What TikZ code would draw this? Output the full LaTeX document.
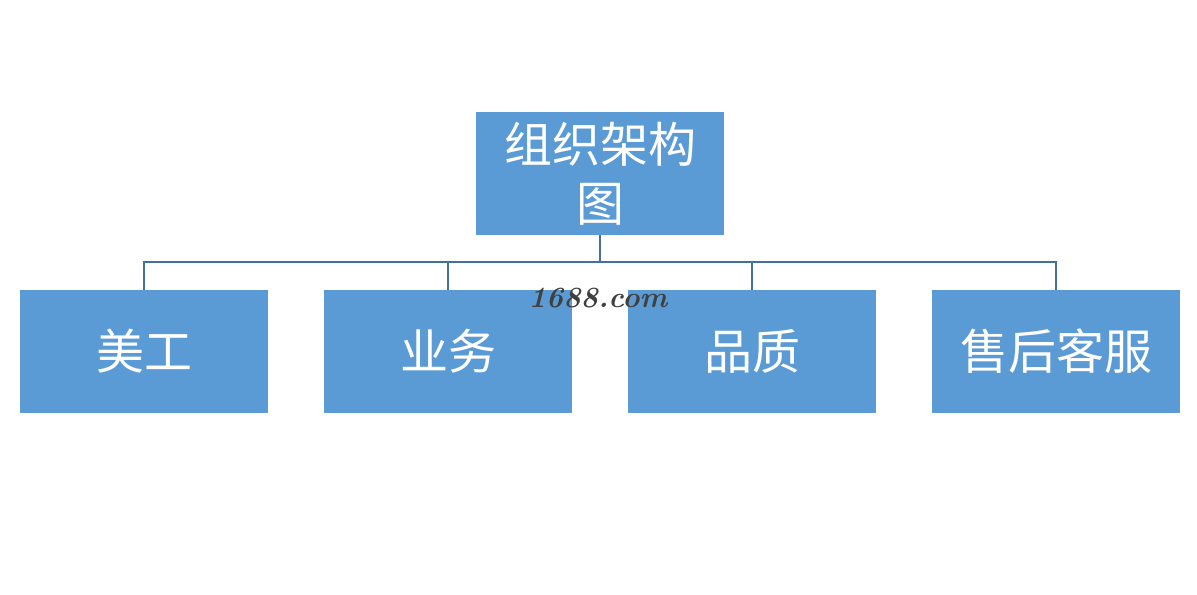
\documentclass[tikz,border=0pt]{standalone}
\usepackage{fontspec}
\newfontfamily\cjk{Noto Sans CJK SC}
\usepackage{xcolor}
\usepackage{tikz}
\usetikzlibrary{positioning, calc}

\definecolor{boxblue}{HTML}{5B9BD5}
\definecolor{linkblue}{HTML}{41719C}

\begin{document}
\begin{tikzpicture}[
    x=0.75pt, y=-0.75pt,
    orgbox/.style={fill=boxblue, minimum width=186pt, minimum height=92pt, inner sep=0pt,
        text=white, font=\cjk\fontsize{36}{44}\selectfont, align=center},
    link/.style={draw=linkblue, line width=1.5pt}
]
\useasboundingbox (0,0) rectangle (1197,594);

% Boxes
\node[orgbox] (root) at (600,173.5) {组织架构\\图};
\node[orgbox] (art) at (144,351.5) {美工};
\node[orgbox, right=228pt of art.center, anchor=center] (sales) {业务};
\node[orgbox, right=228pt of sales.center, anchor=center] (quality) {品质};
\node[orgbox, right=228pt of quality.center, anchor=center] (service) {售后客服};

% Connectors
\coordinate (bus) at (600,262);
\draw[link] (root.south) -- (bus);
\foreach \n in {art,sales,quality,service}
    \draw[link] (bus) -| (\n.north);

% Watermark
\node[text=black!75, font=\bfseries\itshape\fontsize{22}{22}\selectfont] (mark) at (598,298) {1688.com};

\end{tikzpicture}
\end{document}
